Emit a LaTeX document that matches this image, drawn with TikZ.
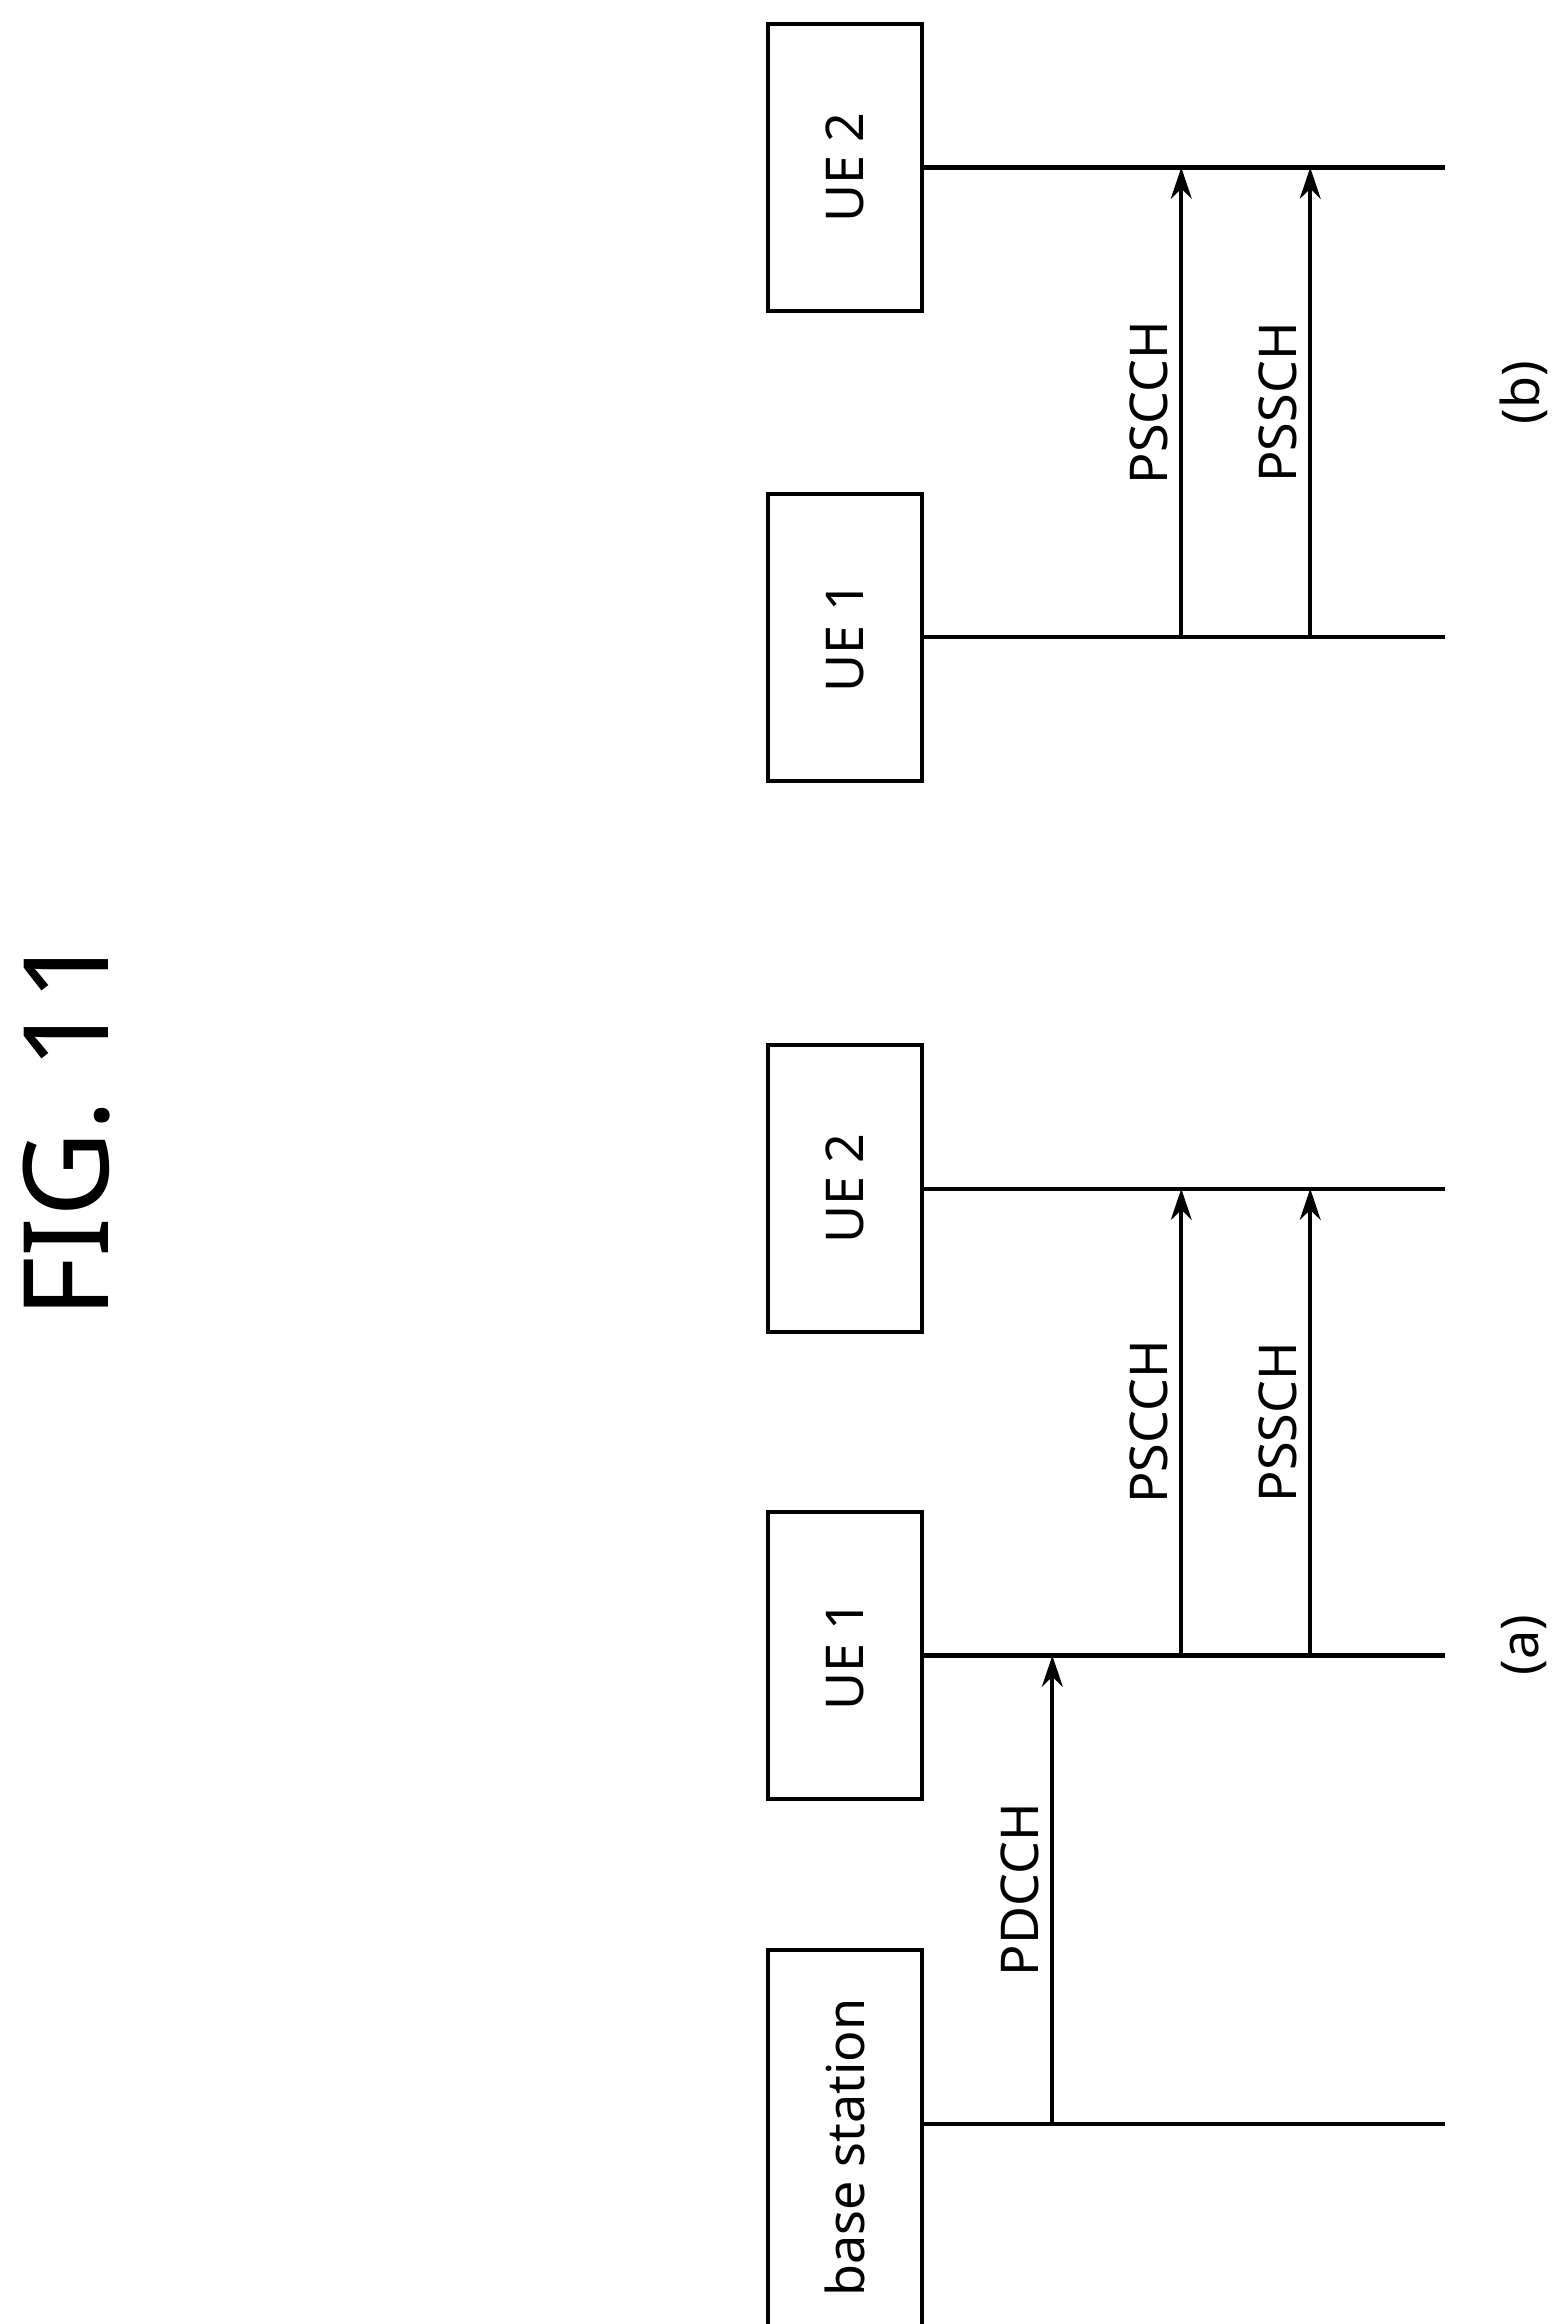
\documentclass[tikz,border=0pt]{standalone}
\usepackage{fontspec}
\setmainfont{Noto Sans}
\usetikzlibrary{arrows.meta}
\begin{document}
\begin{tikzpicture}[x=0.015cm,y=-0.015cm,
  box/.style={rectangle, draw, line width=1.2pt, rotate=90, minimum width=2.9cm, minimum height=1.56cm, font=\fontsize{15}{18}\selectfont},
  life/.style={line width=1.2pt},
  msg/.style={line width=1.2pt, -{Stealth[length=9pt,width=6pt]}},
  lbl/.style={rotate=90, font=\fontsize{15}{18}\selectfont}]

\useasboundingbox (0,0) rectangle (1053,1568);

\node[rotate=90, font=\fontsize{34}{40}\selectfont] (title) at (45,760) {FIG. 11};

% (a)
\node[box, minimum width=4cm] (bs) at (570,1449) {base station};
\node[box] (ue1a) at (570,1117) {UE 1};
\node[box] (ue2a) at (570,802) {UE 2};

\coordinate (bsEnd) at (975,1433);
\coordinate (ue1aEnd) at (975,1117);
\coordinate (ue2aEnd) at (975,802);
\draw[life] (622,1433) -- (bsEnd);
\draw[life] (ue1a.south) -- (ue1aEnd);
\draw[life] (ue2a.south) -- (ue2aEnd);

\coordinate (pdcchS) at (710,1433);
\coordinate (pdcchE) at (710,1117);
\draw[msg] (pdcchS) -- node[lbl, above] {PDCCH} (pdcchE);

\coordinate (psccaS) at (797,1117);
\coordinate (psccaE) at (797,802);
\draw[msg] (psccaS) -- node[lbl, above] {PSCCH} (psccaE);

\coordinate (psscaS) at (884,1117);
\coordinate (psscaE) at (884,802);
\draw[msg] (psscaS) -- node[lbl, above] {PSSCH} (psscaE);

\node[lbl] (capa) at (1028,1110) {(a)};

% (b)
\node[box] (ue1b) at (570,430) {UE 1};
\node[box] (ue2b) at (570,113) {UE 2};

\coordinate (ue1bEnd) at (975,430);
\coordinate (ue2bEnd) at (975,113);
\draw[life] (ue1b.south) -- (ue1bEnd);
\draw[life] (ue2b.south) -- (ue2bEnd);

\coordinate (psccbS) at (797,430);
\coordinate (psccbE) at (797,113);
\draw[msg] (psccbS) -- node[lbl, above] {PSCCH} (psccbE);

\coordinate (psscbS) at (884,430);
\coordinate (psscbE) at (884,113);
\draw[msg] (psscbS) -- node[lbl, above] {PSSCH} (psscbE);

\node[lbl] (capb) at (1028,265) {(b)};

\end{tikzpicture}
\end{document}
